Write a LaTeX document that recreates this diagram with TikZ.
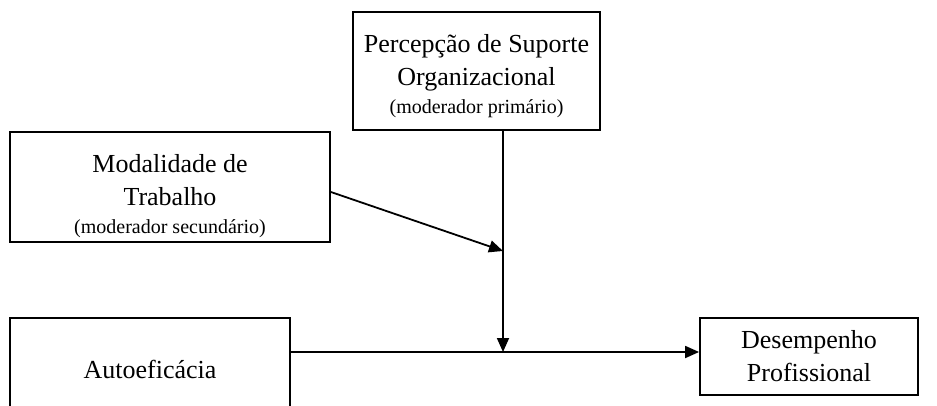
\documentclass[tikz,border=0pt]{standalone}
\usepackage{fontspec}
\setmainfont{Liberation Serif}
\usetikzlibrary{arrows.meta}
\newcommand{\parenfont}{\fontsize{20}{22}\selectfont}
\begin{document}
\begin{tikzpicture}[x=1pt,y=1pt,
  box/.style={draw, line width=1.8pt, align=center, inner sep=0pt, font=\fontsize{26}{33}\selectfont},
  conn/.style={line width=1.8pt},
  arr/.style={conn, -{Triangle[length=14pt,width=12pt]}}]
\useasboundingbox (0,0) rectangle (937,405);
\node[box, minimum width=247, minimum height=118] (psup) at (476.5,334)
  {\rule{0pt}{28pt}Percepção de Suporte\\Organizacional\\[-5pt]{\parenfont (moderador primário)}};
\node[box, minimum width=320, minimum height=110] (mod) at (170,218)
  {\rule{0pt}{37pt}Modalidade de\\Trabalho\\[-5pt]{\parenfont (moderador secundário)}};
\node[box, minimum width=280, minimum height=104] (auto) at (150,35) {};
\node[font=\fontsize{26}{33}\selectfont] (autot) at (150,36) {Autoeficácia};
\node[box, minimum width=218, minimum height=77] (desemp) at (809,48.5)
  {Desempenho\\Profissional};
\coordinate (m) at (503,53);
\coordinate (k) at (503,154);
\draw[arr] (psup.south -| m) -- (m);
\draw[arr] ([yshift=-5pt]mod.east) -- (k);
\draw[arr] (auto.east |- m) -- (desemp.west |- m);
\end{tikzpicture}
\end{document}
